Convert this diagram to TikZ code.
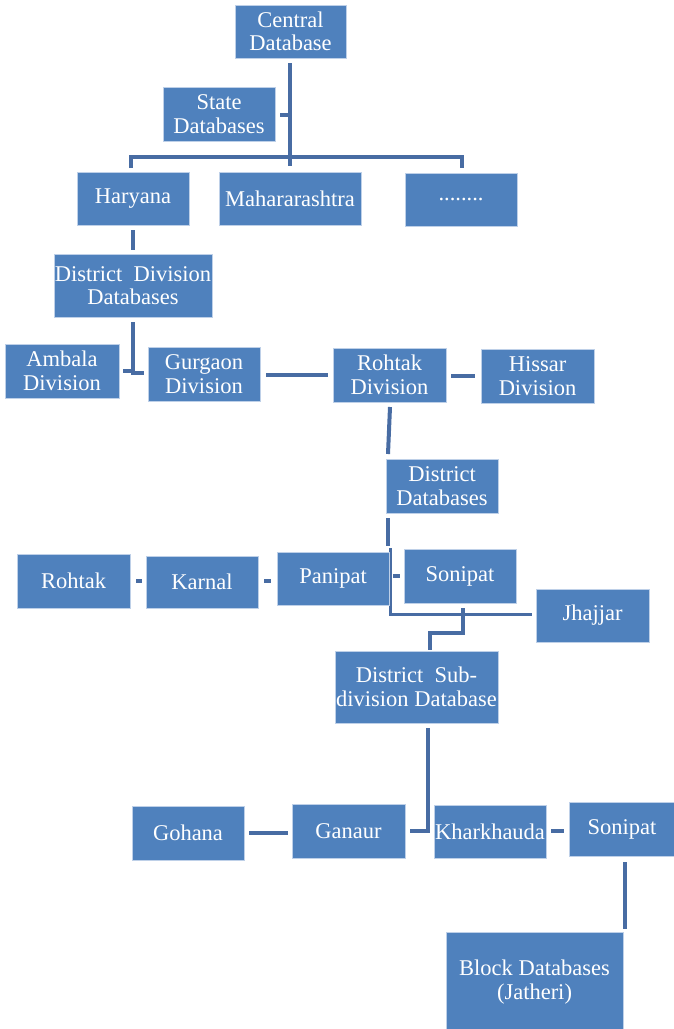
\documentclass[tikz,border=0pt]{standalone}
\usepackage{fontspec}
\setmainfont{Liberation Serif}
\usetikzlibrary{calc}
\definecolor{boxblue}{RGB}{79,129,189}
\definecolor{boxedge}{RGB}{190,208,232}
\definecolor{lc}{RGB}{72,108,163}
\tikzset{
  box/.style={draw=boxedge, line width=0.8pt, fill=boxblue, text=white,
    font=\fontsize{22.5}{23.5}\selectfont, align=center, inner sep=0pt, outer sep=0pt},
  conn/.style={draw=lc, line width=4pt}
}
\begin{document}
\begin{tikzpicture}[x=1pt,y=-1pt]
\useasboundingbox (0,0) rectangle (674,1029);
% junction coordinates
\coordinate (trunkEnd) at (290,166);
\coordinate (barL) at (131,157);
\coordinate (barR) at (462,157);
\coordinate (stateJ) at (290,115);
\coordinate (ddJ) at (133,373);
\coordinate (ambJ) at (133,371);
\coordinate (distJ) at (390,614);
\coordinate (sonJ) at (463,633);
\coordinate (dsdJ) at (430,633);
\coordinate (subJ) at (428,831);
% connectors (drawn first)
\draw[conn] (290,63) -- (trunkEnd);
\draw[conn] (280,115) -- (stateJ);
\draw[conn] (131,168) -- (barL) -- (barR) -- (462,168);
\draw[conn] (133,230) -- (133,250);
\draw[conn] (133,322) -- (ddJ) -- (144,373);
\draw[conn] (123,371) -- (ambJ);
\draw[conn] (266,375) -- (328,375);
\draw[conn] (451,376) -- (475,376);
\draw[conn] (390,407) -- (388,454);
\draw[conn] (388,518) -- (388,546);
\draw[conn, line width=3pt] (390,548) -- (distJ) -- (532,614);
\draw[conn] (393,576) -- (400,576);
\draw[conn] (136,581) -- (142,581);
\draw[conn] (264,581) -- (271,581);
\draw[conn] (463,608) -- (sonJ) -- (dsdJ) -- (430,650);
\draw[conn] (428,728) -- (subJ) -- (410,831);
\draw[conn] (249,833) -- (288,833);
\draw[conn] (551,831) -- (564,831);
\draw[conn] (625,862) -- (625,929);
% boxes
\node[box, minimum width=111, minimum height=53] (cd) at (290.5,31.5) {Central\\Database};
\node[box, minimum width=112, minimum height=54] (sd) at (219,114) {State\\Databases};
\node[box, minimum width=112, minimum height=53] (har) at (133,198.5) {Haryana};
\node[box, minimum width=142, minimum height=53] (mah) at (290,198.5) {Mahararashtra};
\node[box, minimum width=112, minimum height=53] (dots) at (461,199.5) {........};
\node[box, minimum width=158, minimum height=63] (ddd) at (133,285.5) {District\ \ Division\\Databases};
\node[box, minimum width=114, minimum height=54] (amb) at (62,371) {Ambala\\Division};
\node[box, minimum width=112, minimum height=54] (gur) at (204,374) {Gurgaon\\Division};
\node[box, minimum width=113, minimum height=54] (rohd) at (389.5,375) {Rohtak\\Division};
\node[box, minimum width=113, minimum height=54] (his) at (537.5,376) {Hissar\\Division};
\node[box, minimum width=112, minimum height=54] (dd) at (442,486) {District\\Databases};
\node[box, minimum width=113, minimum height=54] (roh) at (73.5,581) {Rohtak};
\node[box, minimum width=112, minimum height=52] (kar) at (202,582) {Karnal};
\node[box, minimum width=112, minimum height=53] (pan) at (333,578.5) {Panipat};
\node[box, minimum width=112, minimum height=54] (son) at (460,576) {Sonipat};
\node[box, minimum width=113, minimum height=53] (jha) at (592.5,615.5) {Jhajjar};
\node[box, minimum width=163, minimum height=72] (dsd) at (416.5,687) {District\ \ Sub-\\division Database};
\node[box, minimum width=112, minimum height=54] (goh) at (188,833) {Gohana};
\node[box, minimum width=113, minimum height=54] (gan) at (348.5,831) {Ganaur};
\node[box, minimum width=112, minimum height=53] (kha) at (490,831.5) {Kharkhauda};
\node[box, minimum width=106, minimum height=54] (son2) at (622,829) {Sonipat};
\node[box, minimum width=177, minimum height=100] (blk) at (534.5,982) {Block Databases\\(Jatheri)};
\end{tikzpicture}
\end{document}
